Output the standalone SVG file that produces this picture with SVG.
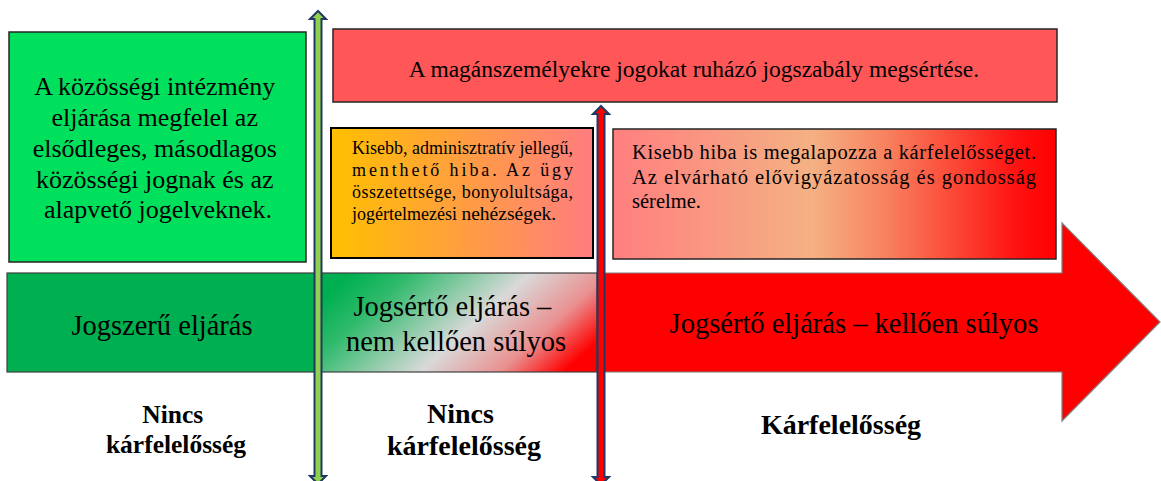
<svg xmlns="http://www.w3.org/2000/svg" width="1161" height="481" viewBox="0 0 1161 481">
<defs>
<linearGradient id="gOrange" x1="0" y1="0" x2="1" y2="0">
<stop offset="0" stop-color="#ffc000"/>
<stop offset="1" stop-color="#ff7c80"/>
</linearGradient>
<linearGradient id="gPink" x1="0" y1="0" x2="1" y2="0">
<stop offset="0" stop-color="#ff7f7f"/>
<stop offset="0.45" stop-color="#f4b183"/>
<stop offset="0.62" stop-color="#f8805e"/>
<stop offset="0.92" stop-color="#ff0f0f"/>
<stop offset="1" stop-color="#ff0000"/>
</linearGradient>
<linearGradient id="gMid" x1="0" y1="0.3" x2="1" y2="0.7">
<stop offset="0" stop-color="#00b050"/>
<stop offset="0.18" stop-color="#30ba6c"/>
<stop offset="0.55" stop-color="#d9d9d9"/>
<stop offset="0.8" stop-color="#ea9090"/>
<stop offset="1" stop-color="#ff0000"/>
</linearGradient>
<style>
.serif{font-family:"Liberation Serif","Times New Roman",serif;fill:#000}
.box{stroke:#262626;stroke-width:1.5}
.bold{font-weight:bold}
.c{text-anchor:middle}
</style>
</defs>

<g id="node-jogszeru-box">
<rect class="box" x="9" y="32" width="297" height="230" fill="#00e05c"/>
<text class="serif c" font-size="26" x="158">
<tspan x="158" y="95">A közösségi intézmény</tspan>
<tspan x="158" y="126">eljárása megfelel az</tspan>
<tspan x="158" y="157">elsődleges, másodlagos</tspan>
<tspan x="158" y="188">közösségi jognak és az</tspan>
<tspan x="158" y="218">alapvető jogelveknek.</tspan>
</text>
</g>

<g id="node-maganszemely">
<rect class="box" x="333" y="29" width="724" height="73" fill="#ff5757"/>
<text class="serif c" font-size="23.5" x="694" y="77">A magánszemélyekre jogokat ruházó jogszabály megsértése.</text>
</g>

<g id="node-kisebb-admin">
<rect x="331" y="128" width="262" height="130" fill="url(#gOrange)" stroke="#000" stroke-width="2"/>
<text class="serif" font-size="18">
<tspan x="352" y="154" textLength="221" lengthAdjust="spacing">Kisebb, adminisztratív jellegű,</tspan>
<tspan x="352" y="176" textLength="221" lengthAdjust="spacing">menthető hiba. Az ügy</tspan>
<tspan x="352" y="198" textLength="221" lengthAdjust="spacing">összetettsége, bonyolultsága,</tspan>
<tspan x="352" y="220">jogértelmezési <tspan font-size="19.5">nehézségek.</tspan></tspan>
</text>
</g>

<g id="node-kisebb-hiba">
<rect class="box" x="613" y="129" width="443" height="130" fill="url(#gPink)"/>
<text class="serif" font-size="20.5">
<tspan x="632" y="159" textLength="404" lengthAdjust="spacing">Kisebb hiba is megalapozza a kárfelelősséget.</tspan>
<tspan x="632" y="184" textLength="404" lengthAdjust="spacing">Az elvárható elővigyázatosság és gondosság</tspan>
<tspan x="632" y="208">sérelme.</tspan>
</text>
</g>

<g id="node-jogszeru-eljaras">
<rect x="7" y="273" width="312" height="99" fill="#00b050" stroke="#404040" stroke-width="1.2"/>
<text class="serif c" font-size="28.5" x="162" y="335">Jogszerű eljárás</text>
</g>

<g id="node-nem-sulyos">
<rect x="320" y="273" width="277" height="99" fill="url(#gMid)" stroke="#404040" stroke-width="1.2"/>
<text class="serif c" font-size="28.5">
<tspan x="456" y="316">Jogsértő eljárás –</tspan>
<tspan x="456" y="351">nem kellően súlyos</tspan>
</text>
</g>

<g id="node-kelloen-sulyos">
<polygon points="598,273 1062,273 1062,223 1160,322 1062,421 1062,372 598,372" fill="#ff0000" stroke="#7f7f7f" stroke-width="1.2"/>
<text class="serif c" font-size="28.5" x="854" y="333">Jogsértő eljárás – kellően súlyos</text>
</g>

<g id="labels">
<text class="serif c bold" font-size="25.5">
<tspan x="176" y="423">Nincs</tspan>
<tspan x="176" y="453">kárfelelősség</tspan>
</text>
<text class="serif c bold" font-size="28">
<tspan x="464" y="423">Nincs</tspan>
<tspan x="464" y="455">kárfelelősség</tspan>
</text>
<text class="serif c bold" font-size="28" x="841" y="434">Kárfelelősség</text>
</g>

<g id="connectors">
<polygon points="318,11 326,19 321.5,19 321.5,476 326,476 318,484 310,476 314.5,476 314.5,19 310,19" fill="#92d050" stroke="#1f3864" stroke-width="2" stroke-linejoin="miter"/>
<polygon points="601,106 609,114 604.5,114 604.5,477 609,477 601,485 593,477 597.5,477 597.5,114 593,114" fill="#ff0000" stroke="#1f3864" stroke-width="2" stroke-linejoin="miter"/>
</g>
</svg>
